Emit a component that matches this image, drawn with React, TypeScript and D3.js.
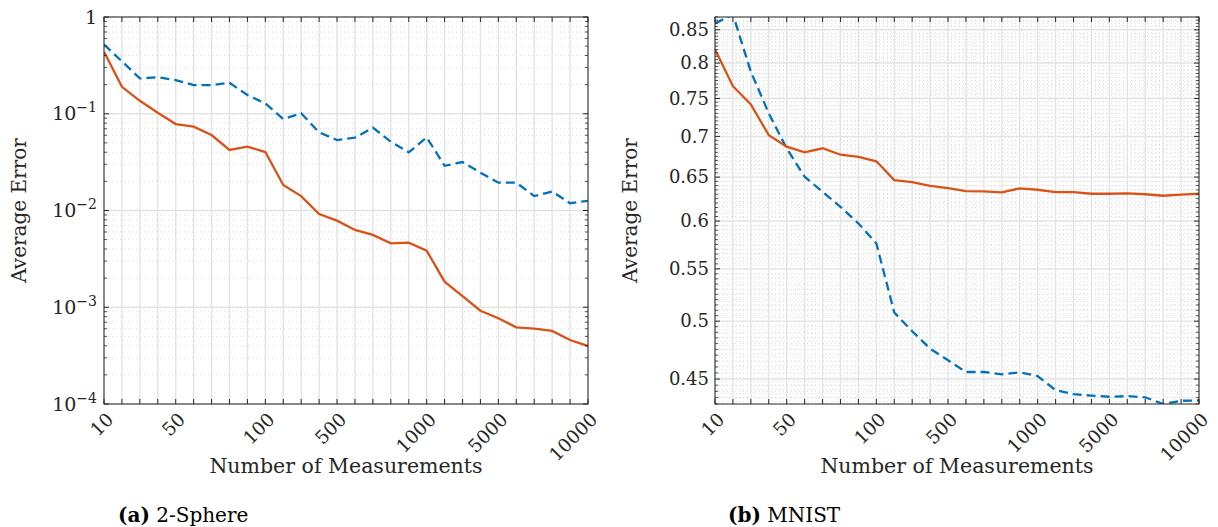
import React from "react";
import * as d3 from "d3";

// ---------- data ----------
const N_VALUES = [10, 20, 30, 40, 50, 60, 70, 80, 90, 100, 200, 300, 400, 500, 600, 700, 800, 900, 1000, 2000, 3000, 4000, 5000, 6000, 7000, 8000, 9000, 10000];
const X_TICK_VALUES = [10, 50, 100, 500, 1000, 5000, 10000];
const X_TICK_LABELS = ["10", "50", "100", "500", "1000", "5000", "10000"];

const sphereSolid = [0.438, 0.19, 0.136, 0.1025, 0.0783, 0.0735, 0.0603, 0.0422, 0.0457, 0.0402, 0.01835, 0.0141, 0.0092, 0.00785, 0.0063, 0.0056, 0.00457, 0.00465, 0.00385, 0.00184, 0.0013, 0.00092, 0.00077, 0.00062, 0.0006, 0.00057, 0.000458, 0.000397];
const sphereDashed = [0.52, 0.348, 0.232, 0.238, 0.223, 0.198, 0.198, 0.209, 0.156, 0.128, 0.0883, 0.101, 0.0643, 0.0535, 0.0566, 0.0718, 0.0514, 0.0399, 0.057, 0.029, 0.0317, 0.0246, 0.0194, 0.0194, 0.0141, 0.0157, 0.0119, 0.0126];
const mnistSolid = [0.8203, 0.767, 0.742, 0.7016, 0.687, 0.68, 0.685, 0.677, 0.6744, 0.669, 0.6464, 0.644, 0.6397, 0.637, 0.6336, 0.6334, 0.6321, 0.6368, 0.6352, 0.6325, 0.6325, 0.6306, 0.6306, 0.631, 0.63, 0.6283, 0.6295, 0.6306];
const mnistDashed = [0.86, 0.874, 0.7875, 0.73, 0.6849, 0.6504, 0.6328, 0.6158, 0.5974, 0.5761, 0.508, 0.4909, 0.4756, 0.4656, 0.4558, 0.4558, 0.4539, 0.4555, 0.4524, 0.441, 0.4378, 0.4366, 0.4357, 0.4362, 0.4353, 0.43, 0.4325, 0.4328];

const SPHERE_Y_TICKS = [1, 0.1, 0.01, 0.001, 0.0001];
const SPHERE_Y_EXP = ["", "−1", "−2", "−3", "−4"];
const MNIST_Y_TICKS = [0.45, 0.5, 0.55, 0.6, 0.65, 0.7, 0.75, 0.8, 0.85];
const MNIST_Y_LABELS = ["0.45", "0.5", "0.55", "0.6", "0.65", "0.7", "0.75", "0.8", "0.85"];

const ORANGE = "#D95319";
const BLUE = "#0072BD";
const AXIS = "#262626";
const FONT = "'DejaVu Serif', serif";
const MAJOR_GRID = "#e3e3e3";
const MINOR_GRID = "#d2d2d2";

type PanelProps = {
  id: string;
  left: number;
  right: number;
  top: number;
  bottom: number;
  kind: "sphere" | "mnist";
  solid: number[];
  dashed: number[];
  caption: string;
  captionTag: string;
  captionX: number;
};

function Panel(p: PanelProps) {
  const x = d3.scalePoint<number>().domain(N_VALUES).range([p.left, p.right]);
  const y =
    p.kind === "sphere"
      ? d3.scaleLog().domain([1e-4, 1]).range([p.bottom, p.top])
      : d3.scaleLog().domain([0.43, 0.87]).range([p.bottom, p.top]);

  const line = d3
    .line<number>()
    .x((_, i) => x(N_VALUES[i]) as number)
    .y((d) => y(d));

  let minorY: number[] = [];
  if (p.kind === "sphere") {
    for (let e = -4; e < 0; e++) for (let m = 2; m <= 9; m++) minorY.push(m * Math.pow(10, e));
  } else {
    minorY = d3.range(86, 175).map((k) => k * 0.005).filter((v) => v >= 0.43 && v <= 0.87);
    minorY = minorY.filter((v) => !MNIST_Y_TICKS.some((t) => Math.abs(t - v) < 1e-9));
  }
  const majorY = p.kind === "sphere" ? SPHERE_Y_TICKS : MNIST_Y_TICKS;

  const step = x.step();
  const minorX: number[] = [];
  if (p.kind === "mnist") {
    N_VALUES.slice(0, -1).forEach((n) => {
      for (let k = 1; k < 5; k++) minorX.push((x(n) as number) + (k * step) / 5);
    });
  }

  const cx = (p.left + p.right) / 2;
  const cy = (p.top + p.bottom) / 2;

  return (
    <g>
      <defs>
        <clipPath id={p.id}>
          <rect x={p.left} y={p.top} width={p.right - p.left} height={p.bottom - p.top} />
        </clipPath>
      </defs>
      {minorY.map((v, i) => (
        <line key={"my" + i} x1={p.left} x2={p.right} y1={y(v)} y2={y(v)} stroke={MINOR_GRID} strokeWidth={0.8} strokeDasharray="1,3" />
      ))}
      {minorX.map((v, i) => (
        <line key={"mx" + i} x1={v} x2={v} y1={p.top} y2={p.bottom} stroke={MINOR_GRID} strokeWidth={0.8} strokeDasharray="1,3" />
      ))}
      {majorY.map((v, i) => (
        <line key={"gy" + i} x1={p.left} x2={p.right} y1={y(v)} y2={y(v)} stroke={MAJOR_GRID} strokeWidth={1.4} />
      ))}
      {N_VALUES.map((n, i) => (
        <line key={"gx" + i} x1={x(n)} x2={x(n)} y1={p.top} y2={p.bottom} stroke={MAJOR_GRID} strokeWidth={1.4} />
      ))}
      <g clipPath={`url(#${p.id})`}>
        <path d={line(p.dashed) || ""} fill="none" stroke={BLUE} strokeWidth={2.3} strokeDasharray="9,5" />
        <path d={line(p.solid) || ""} fill="none" stroke={ORANGE} strokeWidth={2.3} />
      </g>
      <rect x={p.left} y={p.top} width={p.right - p.left} height={p.bottom - p.top} fill="none" stroke={AXIS} strokeWidth={1} />
      {N_VALUES.map((n, i) => (
        <g key={"xt" + i}>
          <line x1={x(n)} x2={x(n)} y1={p.bottom} y2={p.bottom - 5} stroke={AXIS} strokeWidth={1} />
          <line x1={x(n)} x2={x(n)} y1={p.top} y2={p.top + 5} stroke={AXIS} strokeWidth={1} />
        </g>
      ))}
      {majorY.map((v, i) => (
        <g key={"yt" + i}>
          <line x1={p.left} x2={p.left + 5} y1={y(v)} y2={y(v)} stroke={AXIS} strokeWidth={1} />
          <line x1={p.right} x2={p.right - 5} y1={y(v)} y2={y(v)} stroke={AXIS} strokeWidth={1} />
        </g>
      ))}
      {minorY.map((v, i) => (
        <g key={"ymt" + i}>
          <line x1={p.left} x2={p.left + 3} y1={y(v)} y2={y(v)} stroke={AXIS} strokeWidth={0.8} />
          <line x1={p.right} x2={p.right - 3} y1={y(v)} y2={y(v)} stroke={AXIS} strokeWidth={0.8} />
        </g>
      ))}
      {X_TICK_VALUES.map((n, i) => (
        <text
          key={"xl" + i}
          transform={`translate(${(x(n) as number) + 6},${p.bottom + 12}) rotate(-45)`}
          textAnchor="end"
          dy="0.35em"
          fontFamily={FONT}
          fontSize={18.5}
          fill={AXIS}
        >
          {X_TICK_LABELS[i]}
        </text>
      ))}
      {p.kind === "sphere"
        ? SPHERE_Y_TICKS.map((v, i) => (
            <text key={"yl" + i} x={p.left - 7} y={y(v)} dy="0.35em" textAnchor="end" fontFamily={FONT} fontSize={19} fill={AXIS}>
              {i === 0 ? (
                "1"
              ) : (
                <>
                  <tspan>10</tspan>
                  <tspan dy="-8" fontSize={14}>
                    {SPHERE_Y_EXP[i]}
                  </tspan>
                </>
              )}
            </text>
          ))
        : MNIST_Y_TICKS.map((v, i) => (
            <text key={"yl" + i} x={p.left - 6} y={y(v)} dy="0.35em" textAnchor="end" fontFamily={FONT} fontSize={18} fill={AXIS}>
              {MNIST_Y_LABELS[i]}
            </text>
          ))}
      <text x={cx} y={473} textAnchor="middle" fontFamily={FONT} fontSize={20.5} fill={AXIS}>
        Number of Measurements
      </text>
      <text
        transform={`translate(${p.kind === "sphere" ? 26 : 637},${cy}) rotate(-90)`}
        textAnchor="middle"
        fontFamily={FONT}
        fontSize={20}
        fill={AXIS}
      >
        Average Error
      </text>
      <text x={p.captionX} y={522} fontFamily={FONT} fontSize={20} fill="#000">
        <tspan fontWeight="bold">{p.captionTag}</tspan>
        <tspan> {p.caption}</tspan>
      </text>
    </g>
  );
}

export default function App() {
  return (
    <svg width={1218} height={527} style={{ position: "absolute", left: 0, top: 0, background: "#fff" }}>
      <rect width={1218} height={527} fill="#fff" />
      <Panel id="clipA" left={104} right={588} top={17} bottom={404} kind="sphere" solid={sphereSolid} dashed={sphereDashed} caption="2-Sphere" captionTag="(a)" captionX={118} />
      <Panel id="clipB" left={715} right={1199} top={17} bottom={404} kind="mnist" solid={mnistSolid} dashed={mnistDashed} caption="MNIST" captionTag="(b)" captionX={728} />
    </svg>
  );
}
